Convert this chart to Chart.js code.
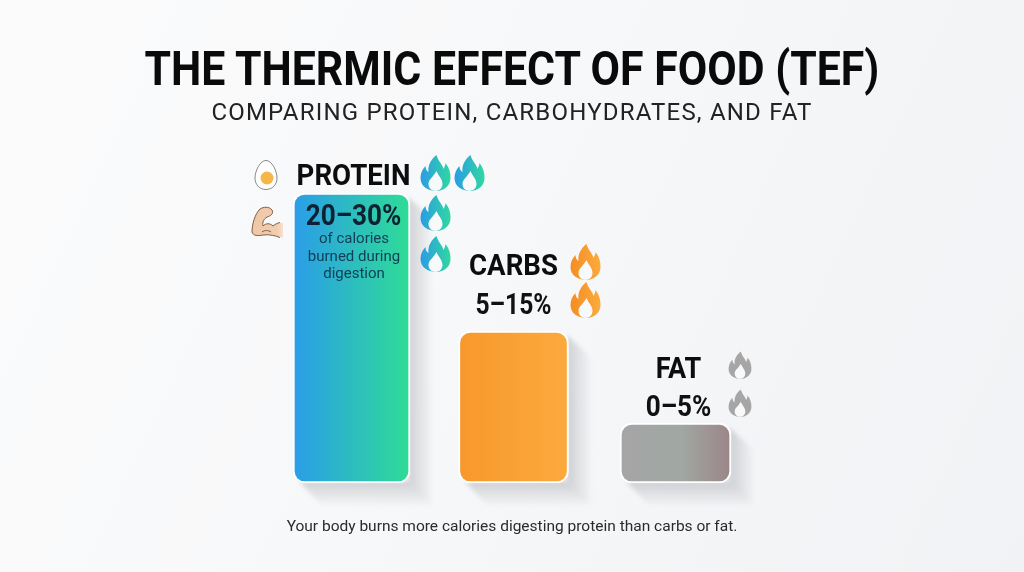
<!DOCTYPE html>
<html>
<head>
<meta charset="utf-8">
<title>Thermic effect of food</title>
<script src="https://cdn.jsdelivr.net/npm/chart.js@4"></script>
<style>
  html, body { margin: 0; padding: 0; }
  body {
    width: 1024px; height: 572px; overflow: hidden; position: relative;
    background: linear-gradient(115deg, #fbfbfc 0%, #f7f8f9 45%, #f1f2f5 100%);
    font-family: Roboto, sans-serif;
  }
  #myChart { position: absolute; left: 0; top: 0; }
  .txt { position: absolute; left: 0; width: 1024px; text-align: center; margin: 0; white-space: nowrap; }
  #title { top: 41px; font-size: 48px; line-height: 56px; font-weight: 700; color: #0a0a0a; transform: scaleX(0.892); transform-origin: 511.5px 0; }
  #subtitle { top: 97px; font-size: 24px; line-height: 30px; font-weight: 400; color: #222; letter-spacing: 1.2px; }
  #note { top: 516px; font-size: 15.5px; line-height: 20px; font-weight: 400; color: #2b2b2b; }
</style>
</head>
<body>
<canvas id="myChart" width="1024" height="572"></canvas>
<h1 class="txt" id="title">THE THERMIC EFFECT OF FOOD (TEF)</h1>
<h2 class="txt" id="subtitle">COMPARING PROTEIN, CARBOHYDRATES, AND FAT</h2>
<p class="txt" id="note">Your body burns more calories digesting protein than carbs or fat.</p>
<script>
const categories = ['PROTEIN', 'CARBS', 'FAT']
const rangeLabels = ['20–30%', '5–15%', '0–5%']
// top of each stated range, in percent of calories
const upperValues = [30, 15, 5]
const proteinNote = ['of calories', 'burned during', 'digestion']

// hidden axis starts a little under zero so the 0-5% bar keeps some body
const axisMin = -1.5
const axisMax = 30
const barWidths = [117, 110, 111]
const barFills = [
  [[0, '#2a9de9'], [1, '#2fdc96']],
  [[0, '#f8982c'], [1, '#fbaa3d']],
  [[0, '#a5a5a5'], [0.55, '#a0a8a3'], [1, '#9b8588']]
]
const flameFills = [
  ['#2b9be6', '#2fd8a0'],
  ['#f58d22', '#fbab3e'],
  ['#a6a6a6', '#a6a6a6']
]

function barFill(context, i) {
  const chart = context.chart
  if (!chart.chartArea) return barFills[i][0][1]
  const x = chart.scales.x.getPixelForValue(i)
  const g = chart.ctx.createLinearGradient(x - barWidths[i] / 2, 0, x + barWidths[i] / 2, 0)
  barFills[i].forEach(s => g.addColorStop(s[0], s[1]))
  return g
}

const datasets = categories.map((name, i) => ({
  label: name,
  data: categories.map((c, j) => j === i ? upperValues[i] : null),
  base: axisMin,
  grouped: false,
  barThickness: barWidths[i],
  backgroundColor: context => barFill(context, i),
  borderColor: '#ffffff',
  borderWidth: 2,
  borderSkipped: false,
  borderRadius: 12
}))

function eachBar(chart, fn) {
  categories.forEach((name, i) => {
    const bar = chart.getDatasetMeta(i).data[i]
    fn(bar, i, bar.x - barWidths[i] / 2, bar.x + barWidths[i] / 2, bar.y, bar.base)
  })
}

// long diagonal shadow: one quad down the right side, one under the bar
const barShadows = {
  id: 'barShadows',
  beforeDatasetsDraw(chart) {
    const ctx = chart.ctx
    const d = 24
    eachBar(chart, (bar, i, l, r, t, b) => {
      ctx.save()
      ctx.filter = 'blur(2px)'
      let g = ctx.createLinearGradient(r, 0, r + d, 0)
      g.addColorStop(0, 'rgba(80,85,95,0.22)')
      g.addColorStop(1, 'rgba(80,85,95,0)')
      ctx.fillStyle = g
      ctx.beginPath()
      ctx.moveTo(r - 2, t + 4)
      ctx.lineTo(r + d, t + 4 + d)
      ctx.lineTo(r + d, b + d)
      ctx.lineTo(r - 2, b - 2)
      ctx.fill()
      g = ctx.createLinearGradient(0, b, 0, b + d)
      g.addColorStop(0, 'rgba(80,85,95,0.22)')
      g.addColorStop(1, 'rgba(80,85,95,0)')
      ctx.fillStyle = g
      ctx.beginPath()
      ctx.moveTo(l + 6, b - 2)
      ctx.lineTo(r - 2, b - 2)
      ctx.lineTo(r + d, b + d)
      ctx.lineTo(l + 6 + d, b + d)
      ctx.fill()
      ctx.restore()
    })
  }
}

const flameOuter = new Path2D('M1,-18 C3,-11 7,-9 8,-4 C9,-6 10,-8 10,-10 C14,-5 15,0 15,5 C15,13 8,18 1,18 C-8,18 -15,13 -15,5 C-15,0 -13,-4 -10,-7 C-10,-4 -9,-2 -7,-1 C-8,-8 -4,-14 1,-18 Z')
const flameInner = new Path2D('M1,-2 C3,3 7,6 7,11 C7,15 4,18 0,18 C-4,18 -7,15 -7,11 C-7,6 -2,4 1,-2 Z')

function drawFlame(ctx, x, y, size, colors) {
  ctx.save()
  ctx.translate(x, y)
  ctx.scale(size, size)
  const g = ctx.createLinearGradient(-15, 0, 15, 0)
  g.addColorStop(0, colors[0])
  g.addColorStop(1, colors[1])
  ctx.fillStyle = g
  ctx.fill(flameOuter)
  ctx.fillStyle = '#f8f9fa'
  ctx.fill(flameInner)
  ctx.restore()
}

function drawEgg(ctx, x, y) {
  ctx.save()
  ctx.translate(x, y)
  ctx.beginPath()
  ctx.moveTo(0, -14.5)
  ctx.bezierCurveTo(6, -14.5, 11, -4, 11, 3)
  ctx.bezierCurveTo(11, 10, 6, 14.5, 0, 14.5)
  ctx.bezierCurveTo(-6, 14.5, -11, 10, -11, 3)
  ctx.bezierCurveTo(-11, -4, -6, -14.5, 0, -14.5)
  ctx.fillStyle = '#ffffff'
  ctx.fill()
  ctx.strokeStyle = '#7a7a7a'
  ctx.lineWidth = 0.9
  ctx.stroke()
  ctx.beginPath()
  ctx.arc(1, 3, 6.5, 0, Math.PI * 2)
  ctx.fillStyle = '#f6b648'
  ctx.fill()
  ctx.restore()
}

function drawArm(ctx) {
  const g = ctx.createLinearGradient(252, 0, 284, 0)
  g.addColorStop(0, '#eec7a4')
  g.addColorStop(0.8, '#f3cdb0')
  g.addColorStop(1, '#f8e6dc')
  ctx.save()
  ctx.beginPath()
  ctx.moveTo(283, 223)
  ctx.bezierCurveTo(279, 222, 275, 224, 273, 226)
  ctx.bezierCurveTo(270, 223, 266, 223, 263, 226)
  ctx.bezierCurveTo(262, 222, 264, 219, 267, 217)
  ctx.bezierCurveTo(271, 216, 274, 213, 272, 210)
  ctx.bezierCurveTo(269, 206, 263, 207, 260, 209)
  ctx.bezierCurveTo(255, 214, 252, 224, 252, 232)
  ctx.bezierCurveTo(253, 236, 258, 236, 263, 235)
  ctx.bezierCurveTo(270, 234, 277, 236, 283, 238)
  ctx.closePath()
  ctx.fillStyle = g
  ctx.fill()
  ctx.strokeStyle = '#7c5c46'
  ctx.lineWidth = 1
  ctx.beginPath()
  ctx.moveTo(280, 222.5)
  ctx.bezierCurveTo(278, 223, 275, 224, 273, 226)
  ctx.bezierCurveTo(270, 223, 266, 223, 263, 226)
  ctx.bezierCurveTo(262, 222, 264, 219, 267, 217)
  ctx.bezierCurveTo(271, 216, 274, 213, 272, 210)
  ctx.bezierCurveTo(269, 206, 263, 207, 260, 209)
  ctx.bezierCurveTo(255, 214, 252, 224, 252, 232)
  ctx.bezierCurveTo(253, 236, 258, 236, 263, 235)
  ctx.bezierCurveTo(270, 234, 276, 236, 280, 237.5)
  ctx.stroke()
  ctx.beginPath()
  ctx.moveTo(262, 232)
  ctx.bezierCurveTo(265, 230, 268, 230, 271, 232)
  ctx.stroke()
  ctx.restore()
}

function centerText(ctx, text, x, y, font, color, squeeze) {
  ctx.save()
  ctx.translate(x, y)
  ctx.scale(squeeze || 1, 1)
  ctx.font = font
  ctx.fillStyle = color
  ctx.textAlign = 'center'
  ctx.textBaseline = 'alphabetic'
  ctx.fillText(text, 0, 0)
  ctx.restore()
}

// where the name and range sit above each bar, relative to the bar centre and top
const labelSpots = [
  { dx: 2, nameY: -8, rangeY: 32, squeeze: 0.92, rangeSqueeze: 0.9 },
  { dx: 0, nameY: -56, rangeY: -17, squeeze: 0.92, rangeSqueeze: 0.85 },
  { dx: 3, nameY: -45, rangeY: -7, squeeze: 0.9, rangeSqueeze: 0.9 }
]
const flameSpots = [
  [[84, -20], [118, -20], [84, 20], [84, 61]],
  [[72, -69], [72, -31]],
  [[64.5, -58], [64.5, -20]]
]
const flameSizes = [1, 1, 0.76]

const barLabels = {
  id: 'barLabels',
  afterDatasetsDraw(chart) {
    const ctx = chart.ctx
    ctx.save()
    eachBar(chart, (bar, i, l, r, t) => {
      const spot = labelSpots[i]
      centerText(ctx, categories[i], bar.x + spot.dx, t + spot.nameY, '700 30px Roboto', '#0d0d0d', spot.squeeze)
      centerText(ctx, rangeLabels[i], bar.x + spot.dx, t + spot.rangeY, '700 29px Roboto', i === 0 ? '#0c2233' : '#111111', spot.rangeSqueeze)
      flameSpots[i].forEach(f => drawFlame(ctx, bar.x + f[0], t + f[1], flameSizes[i], flameFills[i]))
    })
    const p = chart.getDatasetMeta(0).data[0]
    proteinNote.forEach((line, k) => {
      centerText(ctx, line, p.x + 2.5, p.y + 50 + k * 17.5, '400 15px Roboto', '#124058')
    })
    drawEgg(ctx, 266, 175)
    drawArm(ctx)
    ctx.restore()
  }
}

function createChart() {
  const ctx = document.getElementById('myChart').getContext('2d')
  new Chart(ctx, {
    type: 'bar',
    data: { labels: categories, datasets: datasets },
    options: {
      responsive: false,
      animation: false,
      layout: { padding: { left: 270.5, right: 267.5, top: 193, bottom: 89 } },
      scales: {
        x: { display: false },
        y: { display: false, min: axisMin, max: axisMax }
      },
      plugins: { legend: { display: false }, tooltip: { enabled: false } }
    },
    plugins: [barShadows, barLabels]
  })
}

createChart()
</script>
</body>
</html>
